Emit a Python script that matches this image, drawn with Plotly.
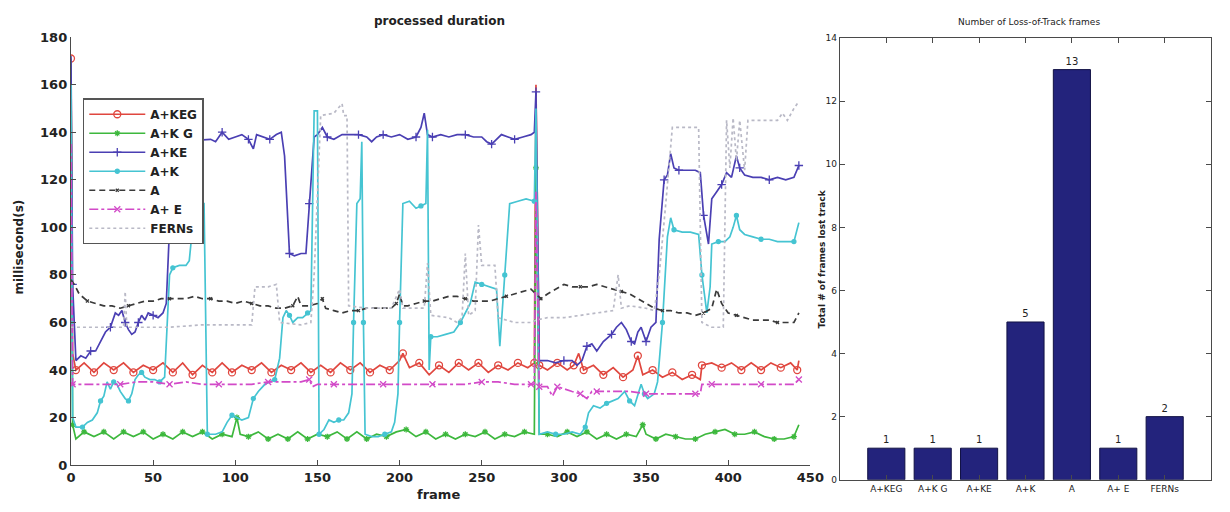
import plotly.graph_objects as go

# ---------------- processed duration (ms per frame) ----------------
keg_frames = [0, 1, 3, 8, 14, 20, 26, 32, 38, 44, 50, 56, 62, 68, 74, 80, 86, 92, 98, 104,
              110, 116, 122, 128, 134, 140, 146, 152, 158, 164, 170, 176, 182, 188, 194, 200,
              202, 206, 212, 218, 224, 230, 236, 242, 248, 254, 260, 266, 272, 278, 282, 283,
              285, 290, 296, 302, 306, 309, 312, 318, 324, 330, 336, 342, 345, 348, 354, 360,
              366, 372, 378, 383, 384, 390, 396, 402, 408, 414, 420, 426, 432, 438, 442, 443]
keg_ms = [171, 47, 40, 43, 39, 43, 40, 43, 39, 42, 40, 43, 39, 43, 38, 42, 39, 43, 39, 42,
          40, 43, 39, 42, 40, 43, 39, 42, 39, 43, 40, 43, 39, 42, 40, 44,
          47, 41, 43, 38, 42, 39, 43, 40, 43, 39, 42, 40, 43, 41, 43, 160,
          42, 40, 43, 40, 42, 47, 40, 42, 38, 41, 37, 40, 46, 38, 40, 37,
          39, 36, 38, 36, 42, 43, 41, 43, 40, 43, 40, 43, 41, 43, 40, 44]

kg_frames = [0, 1, 3, 8, 14, 20, 26, 32, 38, 44, 50, 56, 62, 68, 74, 80, 86, 92, 98, 101,
             103, 108, 114, 120, 126, 132, 138, 144, 150, 156, 162, 168, 174, 180, 186, 192,
             198, 204, 210, 216, 222, 228, 234, 240, 246, 252, 258, 264, 270, 276, 282, 283,
             285, 290, 296, 302, 308, 314, 320, 326, 332, 338, 344, 348, 350, 356, 362, 368,
             374, 380, 386, 392, 398, 404, 410, 416, 422, 428, 434, 440, 443]
kg_ms = [170, 17, 11, 14, 12, 14, 11, 14, 12, 14, 11, 13, 11, 14, 12, 14, 11, 13, 12, 20,
         13, 12, 14, 11, 13, 11, 14, 11, 13, 12, 14, 11, 14, 11, 13, 12,
         14, 15, 12, 14, 11, 13, 11, 13, 12, 14, 11, 13, 12, 14, 13, 125,
         13, 13, 12, 14, 12, 14, 11, 13, 11, 13, 12, 17, 13, 11, 13, 12,
         11, 11, 13, 14, 15, 13, 13, 14, 12, 11, 11, 12, 17]

ke_frames = [0, 1, 3, 6, 9, 12, 15, 18, 21, 24, 27, 29, 31, 33, 35, 37, 39, 41, 43, 45,
             47, 50, 53, 56, 58, 60, 62, 85, 88, 92, 96, 100, 104, 108, 111, 113, 117, 121,
             125, 128, 130, 133, 136, 140, 143, 145, 148, 150, 153, 156, 160, 165, 170, 175,
             180, 183, 186, 190, 195, 200, 205, 210, 213, 215, 217, 220, 225, 230, 235, 240,
             245, 250, 253, 256, 259, 262, 266, 270, 275, 280, 282, 283, 285, 290, 295, 300,
             305, 308, 311, 314, 317, 320, 324, 329, 332, 335, 338, 341, 343, 345, 347, 350,
             353, 356, 358, 361, 363, 365, 367, 370, 375, 380, 383, 385, 388, 390, 393, 396,
             399, 402, 405, 407, 410, 415, 420, 425, 430, 435, 440, 443]
ke_ms = [172, 76, 44, 46, 45, 48, 48, 52, 56, 58, 64, 63, 65, 60, 57, 55, 56, 60, 63, 61,
         64, 63, 62, 64, 68, 100, 136, 137, 136, 140, 137, 138, 139, 137, 133, 139, 138, 137,
         139, 140, 130, 89, 88, 89, 89, 110, 138, 139, 142, 138, 137, 139, 139, 139,
         138, 136, 138, 139, 138, 139, 137, 138, 142, 148, 139, 138, 139, 138, 139, 139,
         138, 138, 136, 135, 137, 139, 138, 137, 138, 139, 140, 157, 44, 44, 43, 44,
         44, 42, 44, 50, 51, 48, 52, 55, 58, 60, 57, 52, 51, 56, 58, 52,
         58, 60, 95, 120, 122, 131, 125, 124, 124, 124, 123, 105, 93, 112, 115, 118,
         123, 121, 130, 125, 122, 121, 121, 120, 121, 120, 121, 126]

k_frames = [0, 1, 3, 7, 10, 13, 16, 18, 20, 22, 24, 26, 28, 30, 33, 35, 37, 39, 41, 43,
            45, 48, 51, 54, 57, 58, 60, 62, 66, 70, 72, 74, 75, 81, 82, 83, 88, 92, 95, 98,
            101, 104, 108, 111, 114, 118, 121, 124, 127, 129, 131, 133, 135, 138, 141, 144,
            146, 148, 150, 151, 154, 157, 160, 163, 166, 169, 171, 172, 174, 176, 177, 178,
            179, 183, 187, 191, 195, 197, 199, 200, 202, 206, 210, 213, 216, 217, 218, 219,
            223, 228, 233, 237, 240, 243, 246, 250, 254, 259, 261, 264, 267, 272, 277, 282,
            283, 285, 290, 295, 300, 305, 310, 313, 315, 318, 322, 326, 329, 333, 337, 340,
            343, 345, 347, 349, 351, 355, 357, 360, 362, 363, 365, 367, 372, 377, 382, 384,
            387, 389, 390, 394, 398, 401, 403, 405, 407, 410, 415, 420, 425, 430, 435, 440, 443]
k_ms = [160, 20, 16, 16, 18, 19, 22, 27, 29, 35, 32, 35, 34, 31, 28, 27, 30, 36, 38, 39,
        37, 36, 36, 35, 37, 50, 80, 83, 84, 84, 86, 100, 110, 110, 60, 13, 13, 14, 18, 21,
        20, 19, 20, 28, 31, 34, 35, 36, 45, 62, 65, 63, 60, 62, 62, 64,
        65, 149, 149, 13, 15, 19, 18, 19, 19, 22, 30, 60, 110, 112, 136, 60,
        13, 12, 12, 13, 14, 18, 30, 60, 110, 111, 108, 109, 110, 141, 40, 54,
        54, 55, 56, 60, 64, 68, 77, 76, 75, 74, 50, 80, 110, 111, 112, 111,
        150, 13, 14, 13, 13, 14, 13, 16, 22, 25, 24, 26, 27, 28, 31, 27,
        25, 30, 34, 30, 28, 30, 35, 60, 82, 96, 104, 99, 98, 98, 97, 80,
        64, 75, 93, 94, 94, 96, 100, 105, 99, 97, 96, 95, 95, 94, 94, 94, 102]

a_frames = [0, 2, 5, 10, 15, 20, 25, 30, 35, 40, 45, 50, 55, 60, 65, 70, 75, 80, 85, 90,
            95, 100, 105, 110, 115, 120, 125, 130, 135, 138, 140, 145, 150, 153, 155, 160,
            165, 170, 175, 180, 185, 190, 195, 198, 200, 202, 205, 210, 215, 220, 225, 230,
            235, 240, 245, 250, 255, 260, 265, 270, 275, 280, 283, 286, 290, 295, 300, 305,
            310, 315, 320, 325, 330, 335, 340, 345, 350, 355, 360, 365, 370, 375, 380, 385,
            390, 393, 396, 400, 405, 410, 415, 420, 425, 430, 435, 440, 443]
a_ms = [78, 76, 72, 69, 68, 67, 67, 66, 67, 68, 69, 69, 70, 70, 70, 70, 71, 70, 70, 69,
        69, 68, 69, 68, 67, 67, 66, 66, 67, 71, 67, 67, 68, 70, 66, 65,
        64, 65, 65, 66, 66, 66, 66, 68, 72, 67, 67, 68, 69, 69, 70, 71,
        71, 70, 69, 69, 69, 70, 71, 72, 73, 74, 72, 70, 72, 74, 76, 75,
        75, 75, 76, 75, 74, 73, 72, 70, 68, 66, 65, 65, 64, 64, 63, 64,
        66, 74, 68, 64, 63, 62, 61, 61, 61, 60, 60, 60, 64]

ae_frames = [0, 1, 10, 20, 30, 40, 50, 60, 70, 80, 90, 100, 110, 120, 130, 140, 145, 147, 150, 160,
             170, 180, 190, 200, 210, 220, 230, 240, 250, 260, 270, 280, 282, 283, 285, 290,
             293, 296, 300, 305, 310, 314, 317, 320, 330, 340, 350, 360, 370, 380, 383, 384,
             390, 400, 410, 420, 430, 440, 443]
ae_ms = [135, 34, 34, 34, 34, 35, 35, 34, 35, 34, 34, 34, 34, 35, 35, 35, 36, 33, 34, 34,
         34, 34, 34, 34, 34, 34, 34, 34, 35, 35, 34, 34, 34, 115, 33, 33,
         29, 33, 32, 31, 30, 28, 31, 31, 31, 31, 30, 30, 30, 30, 30, 34,
         34, 34, 34, 34, 34, 34, 36]

ferns_frames = [0, 5, 30, 32, 33, 34, 60, 80, 100, 110, 112, 120, 125, 127, 140, 146, 148, 152,
                160, 165, 166, 168, 169, 180, 195, 200, 202, 215, 217, 219, 230, 235, 238, 240,
                242, 246, 248, 250, 258, 260, 270, 280, 283, 290, 300, 310, 320, 330, 333, 335,
                340, 350, 355, 358, 362, 366, 375, 382, 384, 390, 397, 399, 401, 403, 405, 407,
                410, 412, 420, 430, 433, 436, 440, 443]
ferns_ms = [58, 58, 58, 58, 73, 58, 58, 59, 59, 59, 75, 75, 76, 60, 59, 60, 80, 147,
            148, 152, 147, 147, 67, 66, 66, 74, 66, 66, 85, 63, 62, 60, 62, 89,
            63, 65, 101, 84, 84, 62, 60, 60, 61, 62, 62, 63, 64, 65, 80, 66,
            67, 66, 65, 80, 110, 142, 142, 142, 60, 58, 58, 145, 125, 146, 128, 145,
            124, 145, 145, 145, 148, 145, 150, 153]

# ---------------- loss-of-track counts ----------------
methods = ["A+KEG", "A+K G", "A+KE", "A+K", "A", "A+ E", "FERNs"]
frames_lost = [1, 1, 1, 5, 13, 1, 2]

for fr, ms in [(keg_frames, keg_ms), (kg_frames, kg_ms), (ke_frames, ke_ms), (k_frames, k_ms),
               (a_frames, a_ms), (ae_frames, ae_ms), (ferns_frames, ferns_ms)]:
    assert len(fr) == len(ms), (len(fr), len(ms))

W, H = 1230, 512
BOLD = dict(family="DejaVu Sans", weight="bold")
INK = "#222"

series = [
    dict(name="A+KEG", x=keg_frames, y=keg_ms, color="#e0473f", dash="solid",
         symbol="circle-open", size=7, maxd=44, mode="lines+markers"),
    dict(name="A+K G", x=kg_frames, y=kg_ms, color="#3db83d", dash="solid",
         symbol="asterisk-open", size=5, maxd=44, mode="lines+markers"),
    dict(name="A+KE", x=ke_frames, y=ke_ms, color="#4a3fb3", dash="solid",
         symbol="cross-thin-open", size=6, maxd=40, mode="lines+markers"),
    dict(name="A+K", x=k_frames, y=k_ms, color="#45c4d2", dash="solid",
         symbol="circle", size=4, maxd=45, mode="lines+markers"),
    dict(name="A", x=a_frames, y=a_ms, color="#3a3a3a", dash="6px,4px",
         symbol="x-thin-open", size=3, maxd=20, mode="lines+markers"),
    dict(name="A+ E", x=ae_frames, y=ae_ms, color="#d24ac8", dash="dashdot",
         symbol="x-thin-open", size=6, maxd=22, mode="lines+markers"),
    dict(name="FERNs", x=ferns_frames, y=ferns_ms, color="#b9b9c6", dash="dot",
         symbol="circle", size=1, maxd=1, mode="lines"),
]

fig = go.Figure()
for s in series:
    fig.add_trace(go.Scatter(
        x=s["x"], y=s["y"], name=s["name"], mode=s["mode"],
        line=dict(color=s["color"], width=1.7, dash=s["dash"]),
        marker=dict(symbol=s["symbol"], size=s["size"], color=s["color"],
                    line=dict(color=s["color"], width=1.3), maxdisplayed=s["maxd"]),
        xaxis="x", yaxis="y",
    ))

fig.add_trace(go.Bar(
    x=methods, y=frames_lost, width=0.8, showlegend=False,
    marker=dict(color="#23237c", line=dict(color="#111144", width=1)),
    text=frames_lost, textposition="outside", cliponaxis=False,
    textfont=dict(family="DejaVu Sans", size=10, color=INK),
    xaxis="x2", yaxis="y2",
))

axis_common = dict(showgrid=False, zeroline=False, showline=True, linecolor="#4a4a4a",
                   linewidth=1.3, ticks="inside", ticklen=5, tickcolor="#4a4a4a")


def label(text, x, y, size, font, angle=0):
    return dict(text=text, x=x / W, y=1 - y / H, xref="paper", yref="paper",
                xanchor="center", yanchor="middle", showarrow=False, textangle=angle,
                font=dict(size=size, color=INK, **font))


fig.update_layout(
    width=W, height=H, margin=dict(l=0, r=0, t=0, b=0),
    paper_bgcolor="white", plot_bgcolor="white",
    xaxis=dict(domain=[67 / W, 818 / W], range=[0, 450], tickvals=list(range(0, 451, 50)),
               tickfont=dict(size=13, color=INK, **BOLD), anchor="y", **axis_common),
    yaxis=dict(domain=[1 - 472 / H, 1 - 31 / H], range=[0, 180], dtick=20,
               tickfont=dict(size=13, color=INK, **BOLD), anchor="x", **axis_common),
    xaxis2=dict(domain=[848 / W, 1225 / W], range=[-1, 7], type="category",
                tickfont=dict(size=9, color=INK, family="DejaVu Sans"), anchor="y2",
                mirror="ticks", **axis_common),
    yaxis2=dict(domain=[1 - 487 / H, 1 - 32 / H], range=[0, 14], dtick=2,
                tickfont=dict(size=9, color=INK, family="DejaVu Sans"), anchor="x2",
                mirror="ticks", **axis_common),
    legend=dict(x=79 / W, y=1 - 94 / H, xanchor="left", yanchor="top",
                bgcolor="white", bordercolor="#555", borderwidth=1.5, itemwidth=56,
                font=dict(size=12, color=INK, **BOLD), tracegroupgap=0),
    showlegend=True,
    annotations=[
        label("processed duration", 441, 14, 12, BOLD),
        label("frame", 440, 502, 13, BOLD),
        label("millisecond(s)", 14, 247, 12, BOLD, -90),
        label("Number of Loss-of-Track frames", 1040, 15, 9, dict(family="DejaVu Sans")),
        label("Total # of frames lost track", 830, 260, 9, BOLD, -90),
    ],
)

fig.write_html("out.html")
